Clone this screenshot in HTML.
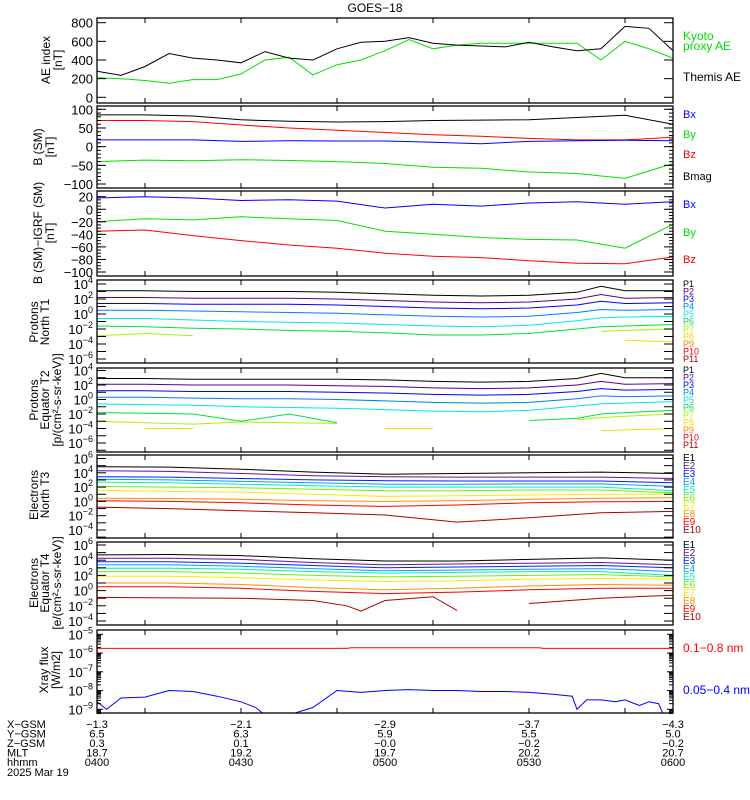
<!DOCTYPE html>
<html><head><meta charset="utf-8"><style>
html,body{margin:0;padding:0;background:#fff;}
svg{display:block;font-family:"Liberation Sans",sans-serif;}
</style></head><body>
<svg id="c" width="750" height="800" viewBox="0 0 750 800" xmlns="http://www.w3.org/2000/svg">
<rect width="750" height="800" fill="#fff"/>
<text x="375" y="12" font-size="12" text-anchor="middle">GOES−18</text>
</svg>
<script>
// ---------- DATA ----------
const aeTimes=[0,5,10,15,20,25,30,35,40,45,50,55,60,65,70,75,80,85,90,95,100,105,110,115,120];
const aeThemis=[280,235,330,470,420,400,370,490,420,400,520,590,600,640,580,560,550,540,590,540,500,520,760,740,500];
const aeKyoto=[210,200,180,150,190,190,250,400,430,240,350,400,500,620,520,560,580,580,580,580,580,400,600,520,420];
const bTimes=[0,10,20,30,40,50,60,70,80,90,100,110,120];
const bsmMag=[85,85,82,72,68,66,67,70,71,72,78,84,60];
const bsmBz=[70,70,67,58,50,44,38,32,28,22,18,18,25];
const bsmBx=[18,18,18,14,16,15,15,12,8,14,16,17,16];
const bsmBy=[-40,-36,-38,-35,-37,-40,-45,-55,-58,-68,-72,-85,-45];
const digBx=[18,20,18,14,15,13,2,8,5,10,12,8,12];
const digBy=[-20,-15,-17,-12,-15,-18,-35,-40,-45,-48,-49,-62,-24];
const digBz=[-35,-33,-42,-50,-57,-62,-70,-75,-77,-82,-86,-87,-76];
const pTimes=[0,10,20,30,40,50,60,70,80,90,100,105,110,120];
const t1P1=[3.1,3.1,3.0,3.0,3.0,2.9,2.7,2.5,2.4,2.5,2.9,3.7,3.1,3.1];
const t1P2=[2.2,2.2,2.1,2.1,2.1,2.0,1.8,1.6,1.5,1.6,2.0,2.6,2.1,2.2];
const t1P3=[1.4,1.4,1.3,1.3,1.3,1.2,1.0,0.8,0.7,0.8,1.2,1.7,1.4,1.5];
const t1P4=[0.5,0.5,0.4,0.3,0.2,0.1,-0.1,-0.3,-0.4,-0.3,0.2,0.6,0.5,0.6];
const t1P5=[-0.6,-0.6,-0.8,-1.0,-1.1,-1.2,-1.4,-1.6,-1.7,-1.5,-0.9,-0.5,-0.4,-0.3];
const t1P6=[-1.6,-1.7,-1.9,-2.0,-2.2,-2.3,-2.5,-2.8,-2.8,-2.6,-2.0,-1.7,-1.6,-1.4];
const t1P7=[-2.9,-2.6,-2.9,null,null,null,null,null,null,null,null,-2.3,-2.2,-2.0];
const t1P8=[null,null,null,null,null,null,null,null,null,null,null,null,-3.5,-3.7];
const t2P1=[2.9,2.9,2.8,2.8,2.8,2.8,2.7,2.5,2.4,2.5,2.9,3.6,3.0,3.0];
const t2P2=[2.1,2.1,2.0,2.0,2.0,1.9,1.8,1.6,1.5,1.6,2.0,2.5,2.1,2.2];
const t2P3=[1.2,1.2,1.1,1.1,1.1,1.0,0.9,0.7,0.6,0.7,1.1,1.5,1.3,1.4];
const t2P4=[0.3,0.3,0.2,0.1,0.1,0.0,-0.2,-0.4,-0.5,-0.4,0.1,0.5,0.4,0.5];
const t2P5=[-0.6,-0.7,-0.8,-1.0,-1.1,-1.2,-1.4,-1.6,-1.7,-1.5,-0.9,-0.6,-0.5,-0.3];
const t2P6=[-1.8,-1.9,-2.0,-3.0,-2.0,-3.2,null,null,null,-2.9,-2.6,-2.0,-1.8,-1.5];
const t2P7=[-3.0,-3.2,-3.4,-3.1,-3.2,-3.3,null,null,null,null,-2.8,-2.5,-2.3,-2.0];
const t2P8=[null,-4.0,-4.0,null,null,null,-4.0,-4.0,null,null,null,-4.3,-4.2,-4.0];
const eTimes=[0,15,30,45,60,75,90,105,120];
const t3E1=[4.85,4.8,4.5,4.1,3.8,3.9,4.0,4.1,3.9];
const t3E2=[4.3,4.2,3.9,3.6,3.45,3.4,3.4,3.4,3.2];
const t3E3=[3.45,3.4,3.2,3.0,2.9,2.85,2.85,2.85,2.6];
const t3E4=[3.1,3.0,2.8,2.6,2.4,2.4,2.45,2.45,2.1];
const t3E5=[2.7,2.6,2.4,2.2,2.0,2.0,2.0,2.0,1.5];
const t3E6=[2.1,2.0,1.9,1.7,1.5,1.5,1.6,1.6,1.2];
const t3E7=[1.55,1.4,1.3,1.0,0.7,0.8,0.9,1.0,1.0];
const t3E8=[0.45,0.4,0.3,0.1,0.0,0.1,0.3,0.45,0.5];
const t3E9=[0.1,0.0,-0.2,-0.5,-0.7,-0.5,-0.2,-0.05,0.0];
const t3E10=[-0.8,-1.0,-1.3,-1.6,-1.9,-2.9,-2.3,-1.6,-1.4];
const t4E1=[4.7,4.75,4.6,4.2,3.9,3.9,4.1,4.3,4.0];
const t4E2=[4.25,4.25,4.1,3.7,3.4,3.5,3.6,3.7,3.4];
const t4E3=[3.8,3.8,3.6,3.3,3.0,3.1,3.2,3.3,3.0];
const t4E4=[3.4,3.4,3.2,2.9,2.6,2.7,2.8,2.9,2.5];
const t4E5=[2.95,2.95,2.8,2.5,2.3,2.4,2.5,2.5,2.0];
const t4E6=[2.5,2.5,2.3,2.0,1.8,1.9,2.0,2.1,1.8];
const t4E7=[1.9,1.9,1.7,1.4,1.2,1.3,1.5,1.6,1.5];
const t4E8=[1.0,1.0,0.8,0.4,0.1,0.3,0.6,0.8,0.7];
const t4E9=[0.5,0.5,0.3,-0.1,-0.4,-0.2,0.1,0.3,0.3];
const t4E10Times=[0,30,45,52,55,60,70,75,80,90,105,120];
const t4E10=[-0.9,-1.0,-1.3,-2.0,-2.7,-1.3,-0.8,-2.6,null,-1.7,-1.0,-0.6];
const xrLongTimes=[0,52,53,92,93,120];
const xrLong=[-5.75,-5.75,-5.72,-5.72,-5.75,-5.75];
const xrShortTimes=[0,2,5,10,15,20,25,30,33,35,40,45,50,55,60,65,70,75,80,85,90,95,99,100,102,105,108,110,113,115,117,118,120];
const xrShort=[-8.6,-9.0,-8.4,-8.35,-8.0,-8.05,-8.3,-8.6,-8.9,-9.3,-9.3,-8.9,-8.0,-8.1,-8.0,-7.95,-8.0,-8.0,-8.05,-8.05,-8.1,-8.2,-8.3,-9.0,-8.5,-8.5,-8.6,-8.5,-8.8,-8.6,-8.7,-9.3,-9.3];
const aeTicks=[0,200,400,600,800];
const bsmTicks=[100,50,0,-50,-100];
const digTicks=[20,0,-20,-40,-60,-80,-100];
const p1Ticks=[4,2,0,-2,-4,-6];
const p2Ticks=[4,2,0,-2,-4,-6];
const eTicks=[6,4,2,0,-2,-4];
const xrTicks=[-5,-6,-7,-8,-9];
const gsmX=["−1.3","−2.1","−2.9","−3.7","−4.3"];
const gsmY=["6.5","6.3","5.9","5.5","5.0"];
const gsmZ=["0.3","0.1","−0.0","−0.2","−0.2"];
const mltVals=["18.7","19.2","19.7","20.2","20.7"];
const hhmmVals=["0400","0430","0500","0530","0600"];
</script>
<script>
const svg=document.getElementById('c');
const NS='http://www.w3.org/2000/svg';
const X0=97,X1=673;
function xs(t){return X0+(t/120)*(X1-X0);}
function mk(tag,attrs,parent){const e=document.createElementNS(NS,tag);for(const k in attrs)e.setAttribute(k,attrs[k]);(parent||svg).appendChild(e);return e;}
function lin(v0,y0,v1,y1){return v=>y0+(v-v0)*(y1-y0)/(v1-v0);}
const P={
 ae:{top:18,bot:103,y:lin(0,97.3,800,22.7)},
 bsm:{top:106,bot:188,y:lin(100,109.3,-100,184)},
 dig:{top:191,bot:276,y:lin(20,196.7,-100,272)},
 t1:{top:280,bot:363,y:lin(4,284,-6,359)},
 t2:{top:368,bot:452,y:lin(4,370.5,-6,443)},
 t3:{top:455,bot:538,y:lin(6,458.5,-4,530)},
 t4:{top:542,bot:625,y:lin(6,545,-4,621)},
 xr:{top:630,bot:713,y:lin(-5,634.3,-9,709.3)}
};
// clip paths
for(const k in P){const p=P[k];const cp=mk('clipPath',{id:'cl-'+k});mk('rect',{x:X0,y:p.top,width:X1-X0,height:p.bot-p.top},cp);}
function series(pk,times,vals,color,name){
  const p=P[pk];let d='',pen=false;
  for(let i=0;i<times.length;i++){
    const v=vals[i];if(v===null||v===undefined){pen=false;continue;}
    d+=(pen?'L':'M')+xs(times[i]).toFixed(1)+' '+p.y(v).toFixed(1)+' ';pen=true;}
  const e=mk('path',{d:d,fill:'none',stroke:color,'stroke-width':1,'clip-path':'url(#cl-'+pk+')'});
  
  
}
function frame(pk,name){
  const p=P[pk];
  const r=mk('rect',{x:X0,y:p.top,width:X1-X0,height:p.bot-p.top,fill:'none',stroke:'#000','stroke-width':1.3});
  
  
  [10,30,50,70,90,110].forEach(t=>{const x=xs(t);
    mk('line',{x1:x,y1:p.bot,x2:x,y2:p.bot-5,stroke:'#000'});
    mk('line',{x1:x,y1:p.top,x2:x,y2:p.top+5,stroke:'#000'});});
}
function ytick(pk,v,len){const p=P[pk];const y=p.y(v);if(y<p.top-0.5||y>p.bot+0.5)return;
  mk('line',{x1:X0,y1:y,x2:X0+len,y2:y,stroke:'#000'});mk('line',{x1:X1,y1:y,x2:X1-len,y2:y,stroke:'#000'});}
function linLabels(pk,ticks,minor,name){
  const p=P[pk];
  for(let v=ticks[ticks.length-1];v<=ticks[0]+1e-6;v+=minor)ytick(pk,v,4);
  ticks.forEach(v=>{ytick(pk,v,9);
    const t=mk('text',{x:X0-4,y:p.y(v)+5,'font-size':13,'text-anchor':'end'});
    t.textContent=String(v).replace('-','−');
    
    });
}
function logLabels(pk,ticks,name,dense){
  const p=P[pk];
  for(let e=ticks[ticks.length-1]-1;e<=ticks[0]+1;e++){
    if(dense){for(let m=2;m<10;m++)ytick(pk,e+Math.log10(m),4);}
    ytick(pk,e,dense?6:9);}
  ticks.forEach(v=>{
    const t=mk('text',{x:X0-4,y:p.y(v)+5,'font-size':13,'text-anchor':'end'});
    
    
    const a=mk('tspan',{},t);a.textContent='10';
    const b=mk('tspan',{dy:-6,'font-size':9},t);b.textContent=String(v).replace('-','−');});
}
function ytitle(lines,xsArr,cy,name){
  lines.forEach((s,i)=>{
    const t=mk('text',{x:0,y:0,'font-size':12,'text-anchor':'middle',transform:`translate(${xsArr[i]},${cy}) rotate(-90)`});
    t.textContent=s;
    
    });
}
function rlabel(txt,y,color,name,fs){
  const t=mk('text',{x:683,y:y,'font-size':fs||11,fill:color});t.textContent=txt;
  
  }

// AE
series('ae',aeTimes,aeKyoto,'#00e000','kyoto-ae-line');
series('ae',aeTimes,aeThemis,'#000','themis-ae-line');
frame('ae','ae-panel');linLabels('ae',aeTicks,50,'ae-tick-label');
ytitle(['AE index','[nT]'],[50,62],60,'ae-axis-title');
rlabel('Kyoto',40,'#00e000','legend-kyoto',12);rlabel('proxy AE',50,'#00e000','legend-proxy-ae',12);rlabel('Themis AE',81,'#000','legend-themis-ae',12);
// B SM
series('bsm',bTimes,bsmBy,'#00e000','bsm-by-line');
series('bsm',bTimes,bsmBz,'#f00','bsm-bz-line');
series('bsm',bTimes,bsmBx,'#00f','bsm-bx-line');
series('bsm',bTimes,bsmMag,'#000','bsm-bmag-line');
frame('bsm','bsm-panel');linLabels('bsm',bsmTicks,10,'bsm-tick-label');
ytitle(['B (SM)','[nT]'],[42,54],147,'bsm-axis-title');
rlabel('Bx',118,'#00f','legend-bx');rlabel('By',138,'#00e000','legend-by');rlabel('Bz',158,'#f00','legend-bz');rlabel('Bmag',180,'#000','legend-bmag');
// B-IGRF
series('dig',bTimes,digBy,'#00e000','dig-by-line');
series('dig',bTimes,digBz,'#f00','dig-bz-line');
series('dig',bTimes,digBx,'#00f','dig-bx-line');
frame('dig','dig-panel');linLabels('dig',digTicks,5,'dig-tick-label');
ytitle(['B (SM)−IGRF (SM)','[nT]'],[42,54],233,'dig-axis-title');
rlabel('Bx',208,'#00f','legend-dig-bx');rlabel('By',236,'#00e000','legend-dig-by');rlabel('Bz',263,'#f00','legend-dig-bz');
// Protons
const pCol=['#000','#5a0090','#0000ff','#0080ff','#00e8f0','#00e040','#b0f000','#f0e000','#ff8000','#ff0000','#b00000'];
series('t1',pTimes,t1P8,pCol[7],'t1-p8-line');series('t1',pTimes,t1P7,pCol[6],'t1-p7-line');
series('t1',pTimes,t1P6,pCol[5],'t1-p6-line');series('t1',pTimes,t1P5,pCol[4],'t1-p5-line');
series('t1',pTimes,t1P4,pCol[3],'t1-p4-line');series('t1',pTimes,t1P3,pCol[2],'t1-p3-line');
series('t1',pTimes,t1P2,pCol[1],'t1-p2-line');series('t1',pTimes,t1P1,pCol[0],'t1-p1-line');
frame('t1','protons-t1-panel');logLabels('t1',p1Ticks,'t1-tick-label');
ytitle(['Protons','North T1'],[38,49],322,'t1-axis-title');
series('t2',pTimes,t2P8,pCol[7],'t2-p8-line');series('t2',pTimes,t2P7,pCol[6],'t2-p7-line');
series('t2',pTimes,t2P6,pCol[5],'t2-p6-line');series('t2',pTimes,t2P5,pCol[4],'t2-p5-line');
series('t2',pTimes,t2P4,pCol[3],'t2-p4-line');series('t2',pTimes,t2P3,pCol[2],'t2-p3-line');
series('t2',pTimes,t2P2,pCol[1],'t2-p2-line');series('t2',pTimes,t2P1,pCol[0],'t2-p1-line');
frame('t2','protons-t2-panel');logLabels('t2',p2Ticks,'t2-tick-label');
ytitle(['Protons','Equator T2','[p/(cm²-s-sr-keV)]'],[38,49,61],400,'t2-axis-title');
for(let i=0;i<11;i++){rlabel('P'+(i+1),287+i*7.5,pCol[i],'legend-t1-p'+(i+1),9);rlabel('P'+(i+1),373+i*7.5,pCol[i],'legend-t2-p'+(i+1),9);}
// Electrons
const eCol=['#000','#6a10a0','#0020ff','#00a0ff','#00f0b0','#70f000','#f0f000','#ff9000','#ff0000','#b00000'];
const t3=[t3E1,t3E2,t3E3,t3E4,t3E5,t3E6,t3E7,t3E8,t3E9,t3E10];
const t4=[t4E1,t4E2,t4E3,t4E4,t4E5,t4E6,t4E7,t4E8,t4E9];
for(let i=9;i>=0;i--)series('t3',eTimes,t3[i],eCol[i],'t3-e'+(i+1)+'-line');
series('t4',t4E10Times,t4E10,eCol[9],'t4-e10-line');
for(let i=8;i>=0;i--)series('t4',eTimes,t4[i],eCol[i],'t4-e'+(i+1)+'-line');
frame('t3','electrons-t3-panel');logLabels('t3',eTicks,'t3-tick-label');
frame('t4','electrons-t4-panel');logLabels('t4',eTicks,'t4-tick-label');
ytitle(['Electrons','North T3'],[38,49],495,'t3-axis-title');
ytitle(['Electrons','Equator T4','[e/(cm²-s-sr-keV)]'],[38,49,61],583,'t4-axis-title');
for(let i=0;i<10;i++){rlabel('E'+(i+1),461+i*8,eCol[i],'legend-t3-e'+(i+1),10);rlabel('E'+(i+1),548+i*8,eCol[i],'legend-t4-e'+(i+1),10);}
// Xray
series('xr',xrLongTimes,xrLong,'#f00','xray-long-line');
series('xr',xrShortTimes,xrShort,'#00f','xray-short-line');
frame('xr','xray-panel');logLabels('xr',xrTicks,'xray-tick-label',true);
ytitle(['Xray flux','[W/m2]'],[48,60],670,'xray-axis-title');
rlabel('0.1−0.8 nm',652,'#f00','legend-xray-long',12);rlabel('0.05−0.4 nm',694,'#00f','legend-xray-short',12);
// bottom annotations
const rows=[['X−GSM',gsmX],['Y−GSM',gsmY],['Z−GSM',gsmZ],['MLT',mltVals],['hhmm',hhmmVals]];
rows.forEach((r,i)=>{const y=728+i*9.5;
  const l=mk('text',{x:7,y:y,'font-size':11});l.textContent=r[0];
  
  
  r[1].forEach((v,j)=>{const t=mk('text',{x:xs(j*30),y:y,'font-size':11,'text-anchor':'middle'});t.textContent=v;
    
    });});
const dt=mk('text',{x:7,y:776,'font-size':11});dt.textContent='2025 Mar 19';


</script>
</body></html>
